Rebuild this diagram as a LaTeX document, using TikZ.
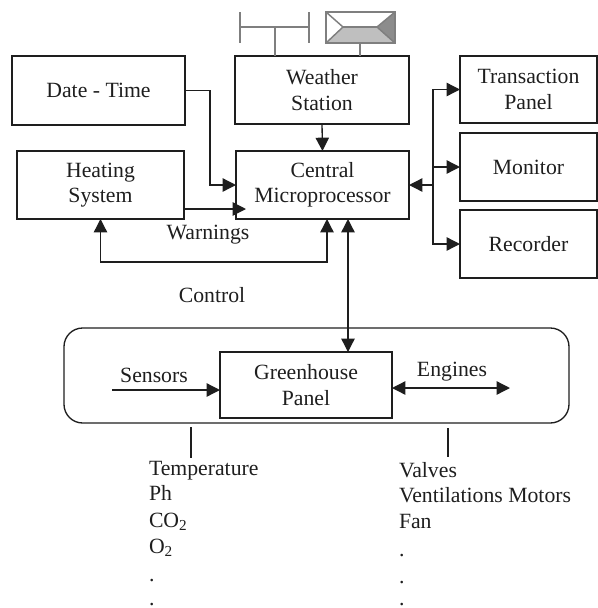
\documentclass[tikz,border=0pt]{standalone}
\usepackage{fontspec}
\setmainfont{Liberation Serif}
\usetikzlibrary{arrows.meta,calc}
\definecolor{ink}{HTML}{1E1E1E}
\definecolor{symgrey}{HTML}{7F7F7F}
\tikzset{
  x=0.75pt,y=-0.75pt,
  every node/.style={font=\fontsize{16.3}{19}\selectfont,text=ink,inner sep=0pt,outer sep=0pt},
  boxnode/.style 2 args={draw=ink,line width=1pt,align=center,minimum width=#1*0.75pt,minimum height=#2*0.75pt},
  wire/.style={draw=ink,line width=1pt},
  arr/.style={wire,-{Triangle[length=10pt,width=10pt]}},
  darr/.style={wire,{Triangle[length=10pt,width=10pt]}-{Triangle[length=10pt,width=10pt]}},
  symline/.style={draw=symgrey,line width=1.1pt},
  listitem/.style={anchor=base west}
}
\begin{document}
\begin{tikzpicture}
\useasboundingbox (0,0) rectangle (598,608);
% enclosing panel
\node[draw=ink,line width=1pt,rounded corners=14pt,minimum width=505*0.75pt,minimum height=95*0.75pt] (panel) at (316.5,375.5) {};
% boxes
\node[boxnode={173}{69}] (date) at (98.5,90.5) {Date - Time};
\node[boxnode={174}{68}] (weather) at (322,90) {Weather\\Station};
\node[boxnode={167}{68}] (heat) at (100.5,185) {Heating\\System};
\node[boxnode={173}{68}] (central) at (322.5,185) {Central\\Microprocessor};
\node[boxnode={137}{67}] (trans) at (528.5,89.5) {Transaction\\Panel};
\node[boxnode={137}{68}] (monitor) at (528.5,167) {Monitor};
\node[boxnode={137}{68}] (recorder) at (528.5,244) {Recorder};
\node[boxnode={172}{66}] (green) at (306,385) {Greenhouse\\Panel};
% labels
\node (warn) at (208,235) {Warnings};
\node (ctrl) at (212,295) {Control};
\node (sens) at (154,375) {Sensors};
\node (eng) at (452,372) {Engines};
\node[listitem] (l1) at (149,475) {Temperature};
\node[listitem] (l2) at (149,500) {Ph};
\node[listitem] (l3) at (149,527) {CO\textsubscript{2}};
\node[listitem] (l4) at (149,553) {O\textsubscript{2}};
\node[listitem] (l5) at (149,581) {.};
\node[listitem] (l6) at (149,605) {.};
\node[listitem] (r1) at (399,477) {Valves};
\node[listitem] (r2) at (399,502) {Ventilations Motors};
\node[listitem] (r3) at (399,528) {Fan};
\node[listitem] (r4) at (399,556) {.};
\node[listitem] (r5) at (399,583) {.};
\node[listitem] (r6) at (399,605) {.};
% free coordinates
\coordinate (bus) at (433,185);
\coordinate (heatin) at (246,209);
\coordinate (ctrlin) at (327,262);
\coordinate (sensin) at (112,390);
\coordinate (engout) at (510,388);
\coordinate (tl) at (191,427);
\coordinate (tlb) at (191,458);
\coordinate (tr) at (448,428);
\coordinate (trb) at (448,457);
% connectors
\draw[arr] (date.east) -| (210,185) -- (central.west |- 0,185);
\draw[arr] (weather.south) -- (central.north);
\draw[arr] (heat.east |- heatin) -- (heatin);
\draw[darr] (heat.south) |- (ctrlin) -- (ctrlin |- central.south);
\draw[arr] (bus) -- (central.east);
\draw[arr] (bus) |- (trans.west);
\draw[arr] (bus |- monitor.west) -- (monitor.west);
\draw[arr] (bus) |- (recorder.west);
\draw[darr] (348,219) -- (348,352);
\draw[arr] (sensin) -- (green.west |- sensin);
\draw[darr] (green.east |- engout) -- (engout);
\draw[wire] (tl) -- (tlb);
\draw[wire] (tr) -- (trb);
% antenna
\coordinate (aw) at (240,27);
\coordinate (ae) at (309,27);
\coordinate (as) at (275,27);
\draw[symline] (240,12) -- (240,43);
\draw[symline] (309,12) -- (309,43);
\draw[symline] (aw) -- (ae);
\draw[symline] (as) -- (as |- weather.north);
% envelope symbol
\fill[black!25] (326,43) -- (343,27) -- (377,27) -- (395,43) -- cycle;
\fill[black!45] (395,12) -- (377,27) -- (395,43) -- cycle;
\draw[symline] (326,12) rectangle (395,43);
\draw[symline] (326,12) -- (343,27) -- (326,43);
\draw[symline] (395,12) -- (377,27) -- (395,43);
\draw[symline] (343,27) -- (377,27);
\draw[symline] (360,43) -- (360,56);
\end{tikzpicture}
\end{document}
